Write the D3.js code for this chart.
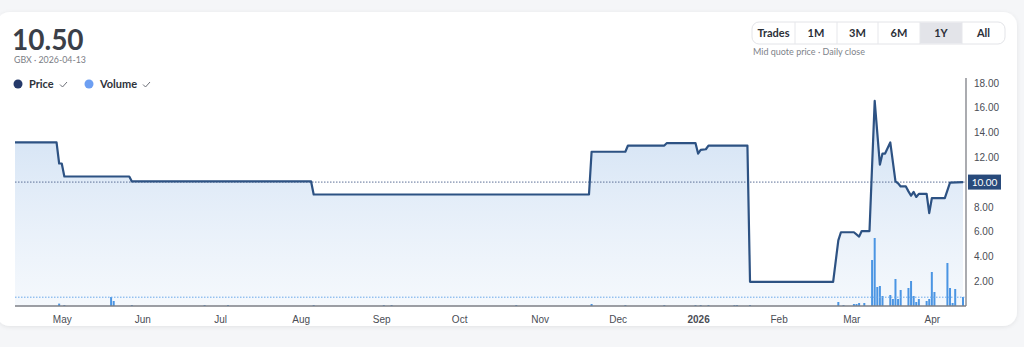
<!DOCTYPE html>
<html>
<head>
<meta charset="utf-8">
<script src="https://cdn.jsdelivr.net/npm/d3@7"></script>
<style>
  html, body { margin: 0; padding: 0; background: #f5f6f8; }
  svg { display: block; font-family: Lato, "Open Sans", sans-serif; }
</style>
</head>
<body>
<svg id="chart" width="1024" height="347"></svg>
<script>
// Header values
const lastPrice = '10.50'
const subTitle = 'GBX · 2026-04-13'
const note = 'Mid quote price · Daily close'
const rangeButtons = ['Trades', '1M', '3M', '6M', '1Y', 'All']
const activeRange = '1Y'

// Price series (change points of daily close)
const priceDates = [
  '2025-04-13', '2025-04-29', '2025-04-30', '2025-05-01', '2025-05-02', '2025-05-27', '2025-05-28',
  '2025-08-05', '2025-08-06', '2025-11-20', '2025-11-21', '2025-12-04', '2025-12-05', '2025-12-19',
  '2025-12-20', '2025-12-31', '2026-01-01', '2026-01-02', '2026-01-04', '2026-01-05', '2026-01-20',
  '2026-01-21', '2026-02-22', '2026-02-24', '2026-02-25', '2026-03-02', '2026-03-04', '2026-03-05',
  '2026-03-08', '2026-03-10', '2026-03-12', '2026-03-13', '2026-03-14', '2026-03-16', '2026-03-18',
  '2026-03-19', '2026-03-20', '2026-03-22', '2026-03-23', '2026-03-24', '2026-03-25', '2026-03-26',
  '2026-03-27', '2026-03-30', '2026-03-31', '2026-04-01', '2026-04-06', '2026-04-08', '2026-04-13'
]
const priceValues = [
  13.2, 13.2, 11.5, 11.5, 10.45, 10.45, 10.05,
  10.05, 9.0, 9.0, 12.45, 12.45, 12.95, 12.95,
  13.15, 13.15, 12.3, 12.6, 12.65, 12.95, 12.95,
  1.95, 1.95, 5.3, 5.95, 5.95, 5.6, 6.05,
  6.05, 16.55, 11.4, 12.3, 12.3, 13.2, 10.05,
  9.9, 9.65, 9.65, 9.25, 8.9, 9.2, 8.8,
  9.05, 9.05, 7.5, 8.7, 8.7, 9.95, 10.0
]
const priceRef = 10.0

// Volume series (thousands of shares)
const volumeDates = [
  '2025-04-30', '2025-05-02', '2025-05-20', '2025-05-21', '2025-05-28', '2025-06-25', '2025-07-04',
  '2025-08-06', '2025-09-02', '2025-09-05', '2025-10-23', '2025-11-21', '2025-12-04', '2025-12-19',
  '2025-12-31', '2026-01-02', '2026-01-05', '2026-01-15', '2026-01-16', '2026-01-21', '2026-02-24',
  '2026-02-26', '2026-03-02', '2026-03-03', '2026-03-04', '2026-03-06', '2026-03-09', '2026-03-10',
  '2026-03-11', '2026-03-12', '2026-03-13', '2026-03-16', '2026-03-17', '2026-03-18', '2026-03-19',
  '2026-03-20', '2026-03-23', '2026-03-24', '2026-03-25', '2026-03-26', '2026-03-27', '2026-03-30',
  '2026-03-31', '2026-04-01', '2026-04-02', '2026-04-07', '2026-04-08', '2026-04-09', '2026-04-10',
  '2026-04-13'
]
const volumeValues = [
  12, 5, 45, 25, 5, 5, 5,
  5, 5, 5, 5, 10, 5, 5,
  5, 5, 5, 5, 5, 5, 20,
  5, 10, 10, 15, 15, 230, 340,
  95, 100, 50, 55, 35, 135, 35,
  80, 90, 125, 50, 20, 35, 25,
  35, 170, 70, 215, 90, 15, 85,
  45
]
const volumeRef = 44

const yTicks = [2, 4, 6, 8, 10, 12, 14, 16, 18]

// Layout
const W = 1024, H = 347
const plotLeft = 15, plotRight = 963, plotTop = 78, plotBottom = 306
const axisX = 966

const parse = d3.timeParse('%Y-%m-%d')
const prices = priceDates.map((d, i) => ({date: parse(d), value: priceValues[i]}))
const volumes = volumeDates.map((d, i) => ({date: parse(d), value: volumeValues[i]}))

const svg = d3.select('#chart')

// Card
const defs = svg.append('defs')
const shadow = defs.append('filter').attr('id', 'shadow').attr('x', '-5%').attr('y', '-10%').attr('width', '110%').attr('height', '120%')
shadow.append('feDropShadow').attr('dx', 0).attr('dy', 1).attr('stdDeviation', 2).attr('flood-color', '#000').attr('flood-opacity', 0.08)

svg.append('rect')
  .attr('x', -4).attr('y', 12)
  .attr('width', 1021).attr('height', 314)
  .attr('rx', 14)
  .attr('fill', '#fff')
  .attr('filter', 'url(#shadow)')

const grad = defs.append('linearGradient').attr('id', 'areaGrad')
  .attr('x1', 0).attr('y1', 0).attr('x2', 0).attr('y2', 1)
grad.append('stop').attr('offset', '0%').attr('stop-color', '#c9dcf2').attr('stop-opacity', 0.9)
grad.append('stop').attr('offset', '100%').attr('stop-color', '#eef4fb').attr('stop-opacity', 0.6)

// Scales
const x = d3.scaleTime()
  .domain([parse('2025-04-13'), parse('2026-04-13')])
  .range([plotLeft, plotRight])

const y = d3.scaleLinear()
  .domain([0, 18.4])
  .range([plotBottom, plotTop])

const yVol = d3.scaleLinear()
  .domain([0, 1000])
  .range([plotBottom, plotBottom - 200])

// Area + line
const area = d3.area()
  .x(d => x(d.date))
  .y0(plotBottom)
  .y1(d => y(d.value))

svg.append('path')
  .datum(prices)
  .attr('d', area)
  .attr('fill', 'url(#areaGrad)')

// Volume bars
svg.selectAll('.vol-bar')
  .data(volumes)
  .enter()
  .append('rect')
  .attr('class', 'vol-bar')
  .attr('x', d => x(d.date) - 1)
  .attr('width', 2)
  .attr('y', d => yVol(d.value))
  .attr('height', d => plotBottom - yVol(d.value))
  .attr('fill', '#4b95e3')

// Reference lines
svg.append('line')
  .attr('x1', plotLeft).attr('x2', axisX)
  .attr('y1', yVol(volumeRef)).attr('y2', yVol(volumeRef))
  .attr('stroke', '#6aa8ea').attr('stroke-width', 1)
  .attr('stroke-dasharray', '1.5,1.5')

svg.append('line')
  .attr('x1', plotLeft).attr('x2', axisX)
  .attr('y1', y(priceRef)).attr('y2', y(priceRef))
  .attr('stroke', '#5c6f96').attr('stroke-width', 1)
  .attr('stroke-dasharray', '1.5,1.5')

const line = d3.line()
  .x(d => x(d.date))
  .y(d => y(d.value))

svg.append('path')
  .datum(prices)
  .attr('d', line)
  .attr('fill', 'none')
  .attr('stroke', '#2d5283')
  .attr('stroke-width', 2.2)
  .attr('stroke-linejoin', 'round')

// Axes
const xAxis = svg.append('g')
  .attr('transform', `translate(0,${plotBottom})`)
  .call(d3.axisBottom(x)
    .ticks(d3.timeMonth.every(1))
    .tickSize(0)
    .tickPadding(10)
    .tickFormat(d => d.getMonth() === 0 ? d3.timeFormat('%Y')(d) : d3.timeFormat('%b')(d)))
xAxis.select('.domain').attr('d', `M${plotLeft},0H${axisX}`).attr('stroke', '#7d7f86').attr('stroke-width', 1.3)
xAxis.selectAll('text')
  .attr('fill', '#4a4d55')
  .style('font-size', '10px')
  .style('font-weight', d => d.getMonth() === 0 ? 700 : 400)

const yAxis = svg.append('g')
  .attr('transform', `translate(${axisX},0)`)
  .call(d3.axisRight(y)
    .tickValues(yTicks)
    .tickSize(0)
    .tickPadding(8)
    .tickFormat(d3.format('.2f')))
yAxis.select('.domain').attr('d', `M0,${plotTop}V${plotBottom}`).attr('stroke', '#7d7f86').attr('stroke-width', 1.3)
yAxis.selectAll('text')
  .attr('fill', '#4a4d55')
  .style('font-size', '10px')
  .style('opacity', d => d === priceRef ? 0 : 1)

// Price badge on axis
const badge = svg.append('g').attr('transform', `translate(${axisX + 2},${y(priceRef)})`)
badge.append('rect')
  .attr('x', 0).attr('y', -7.5)
  .attr('width', 33).attr('height', 15)
  .attr('fill', '#284a7b')
badge.append('text')
  .attr('x', 16.5).attr('y', 3.6)
  .attr('text-anchor', 'middle')
  .attr('fill', '#fff')
  .style('font-size', '10px')
  .text(d3.format('.2f')(priceRef))

// Header
svg.append('text')
  .attr('x', 12).attr('y', 50)
  .attr('fill', '#3b3f48')
  .style('font-size', '28px')
  .style('font-weight', 700)
  .text(lastPrice)

svg.append('text')
  .attr('x', 14).attr('y', 63)
  .attr('fill', '#7a7d85')
  .style('font-size', '8.8px')
  .text(subTitle)

// Legend
const legendItems = [
  {name: 'Price', color: '#25396a', x: 18},
  {name: 'Volume', color: '#6d9ff2', x: 89}
]
const legend = svg.selectAll('.legend')
  .data(legendItems)
  .enter()
  .append('g')
  .attr('class', 'legend')
  .attr('transform', d => `translate(${d.x},84)`)
legend.append('circle').attr('r', 4.5).attr('fill', d => d.color)
legend.append('text')
  .attr('x', 11).attr('y', 4)
  .attr('fill', '#2e323a')
  .style('font-size', '11px')
  .style('font-weight', 700)
  .text(d => d.name)
legend.append('path')
  .attr('d', (d, i) => {
    const cx = i === 0 ? 42 : 54
    return `M${cx},0.5L${cx + 2.5},3L${cx + 7},-2`
  })
  .attr('fill', 'none')
  .attr('stroke', '#6d7078')
  .attr('stroke-width', 1)

// Range buttons
const btnX = [752, 795, 837, 878, 920, 962, 1005]
const btns = svg.append('g')
btns.append('rect')
  .attr('x', btnX[0]).attr('y', 22)
  .attr('width', btnX[6] - btnX[0]).attr('height', 22)
  .attr('rx', 7)
  .attr('fill', '#fff')
  .attr('stroke', '#e3e4e8')
btns.append('rect')
  .attr('x', btnX[4]).attr('y', 22.5)
  .attr('width', btnX[5] - btnX[4]).attr('height', 21)
  .attr('fill', '#e3e4e9')
rangeButtons.forEach((name, i) => {
  if (i > 0) {
    btns.append('line')
      .attr('x1', btnX[i]).attr('x2', btnX[i])
      .attr('y1', 22).attr('y2', 44)
      .attr('stroke', '#e6e7eb')
  }
  btns.append('text')
    .attr('x', (btnX[i] + btnX[i + 1]) / 2).attr('y', 37)
    .attr('text-anchor', 'middle')
    .attr('fill', '#2c3038')
    .style('font-size', '11px')
    .style('font-weight', 700)
    .text(name)
})
svg.append('text')
  .attr('x', 753).attr('y', 55)
  .attr('fill', '#80838a')
  .style('font-size', '9px')
  .text(note)
</script>
</body>
</html>
